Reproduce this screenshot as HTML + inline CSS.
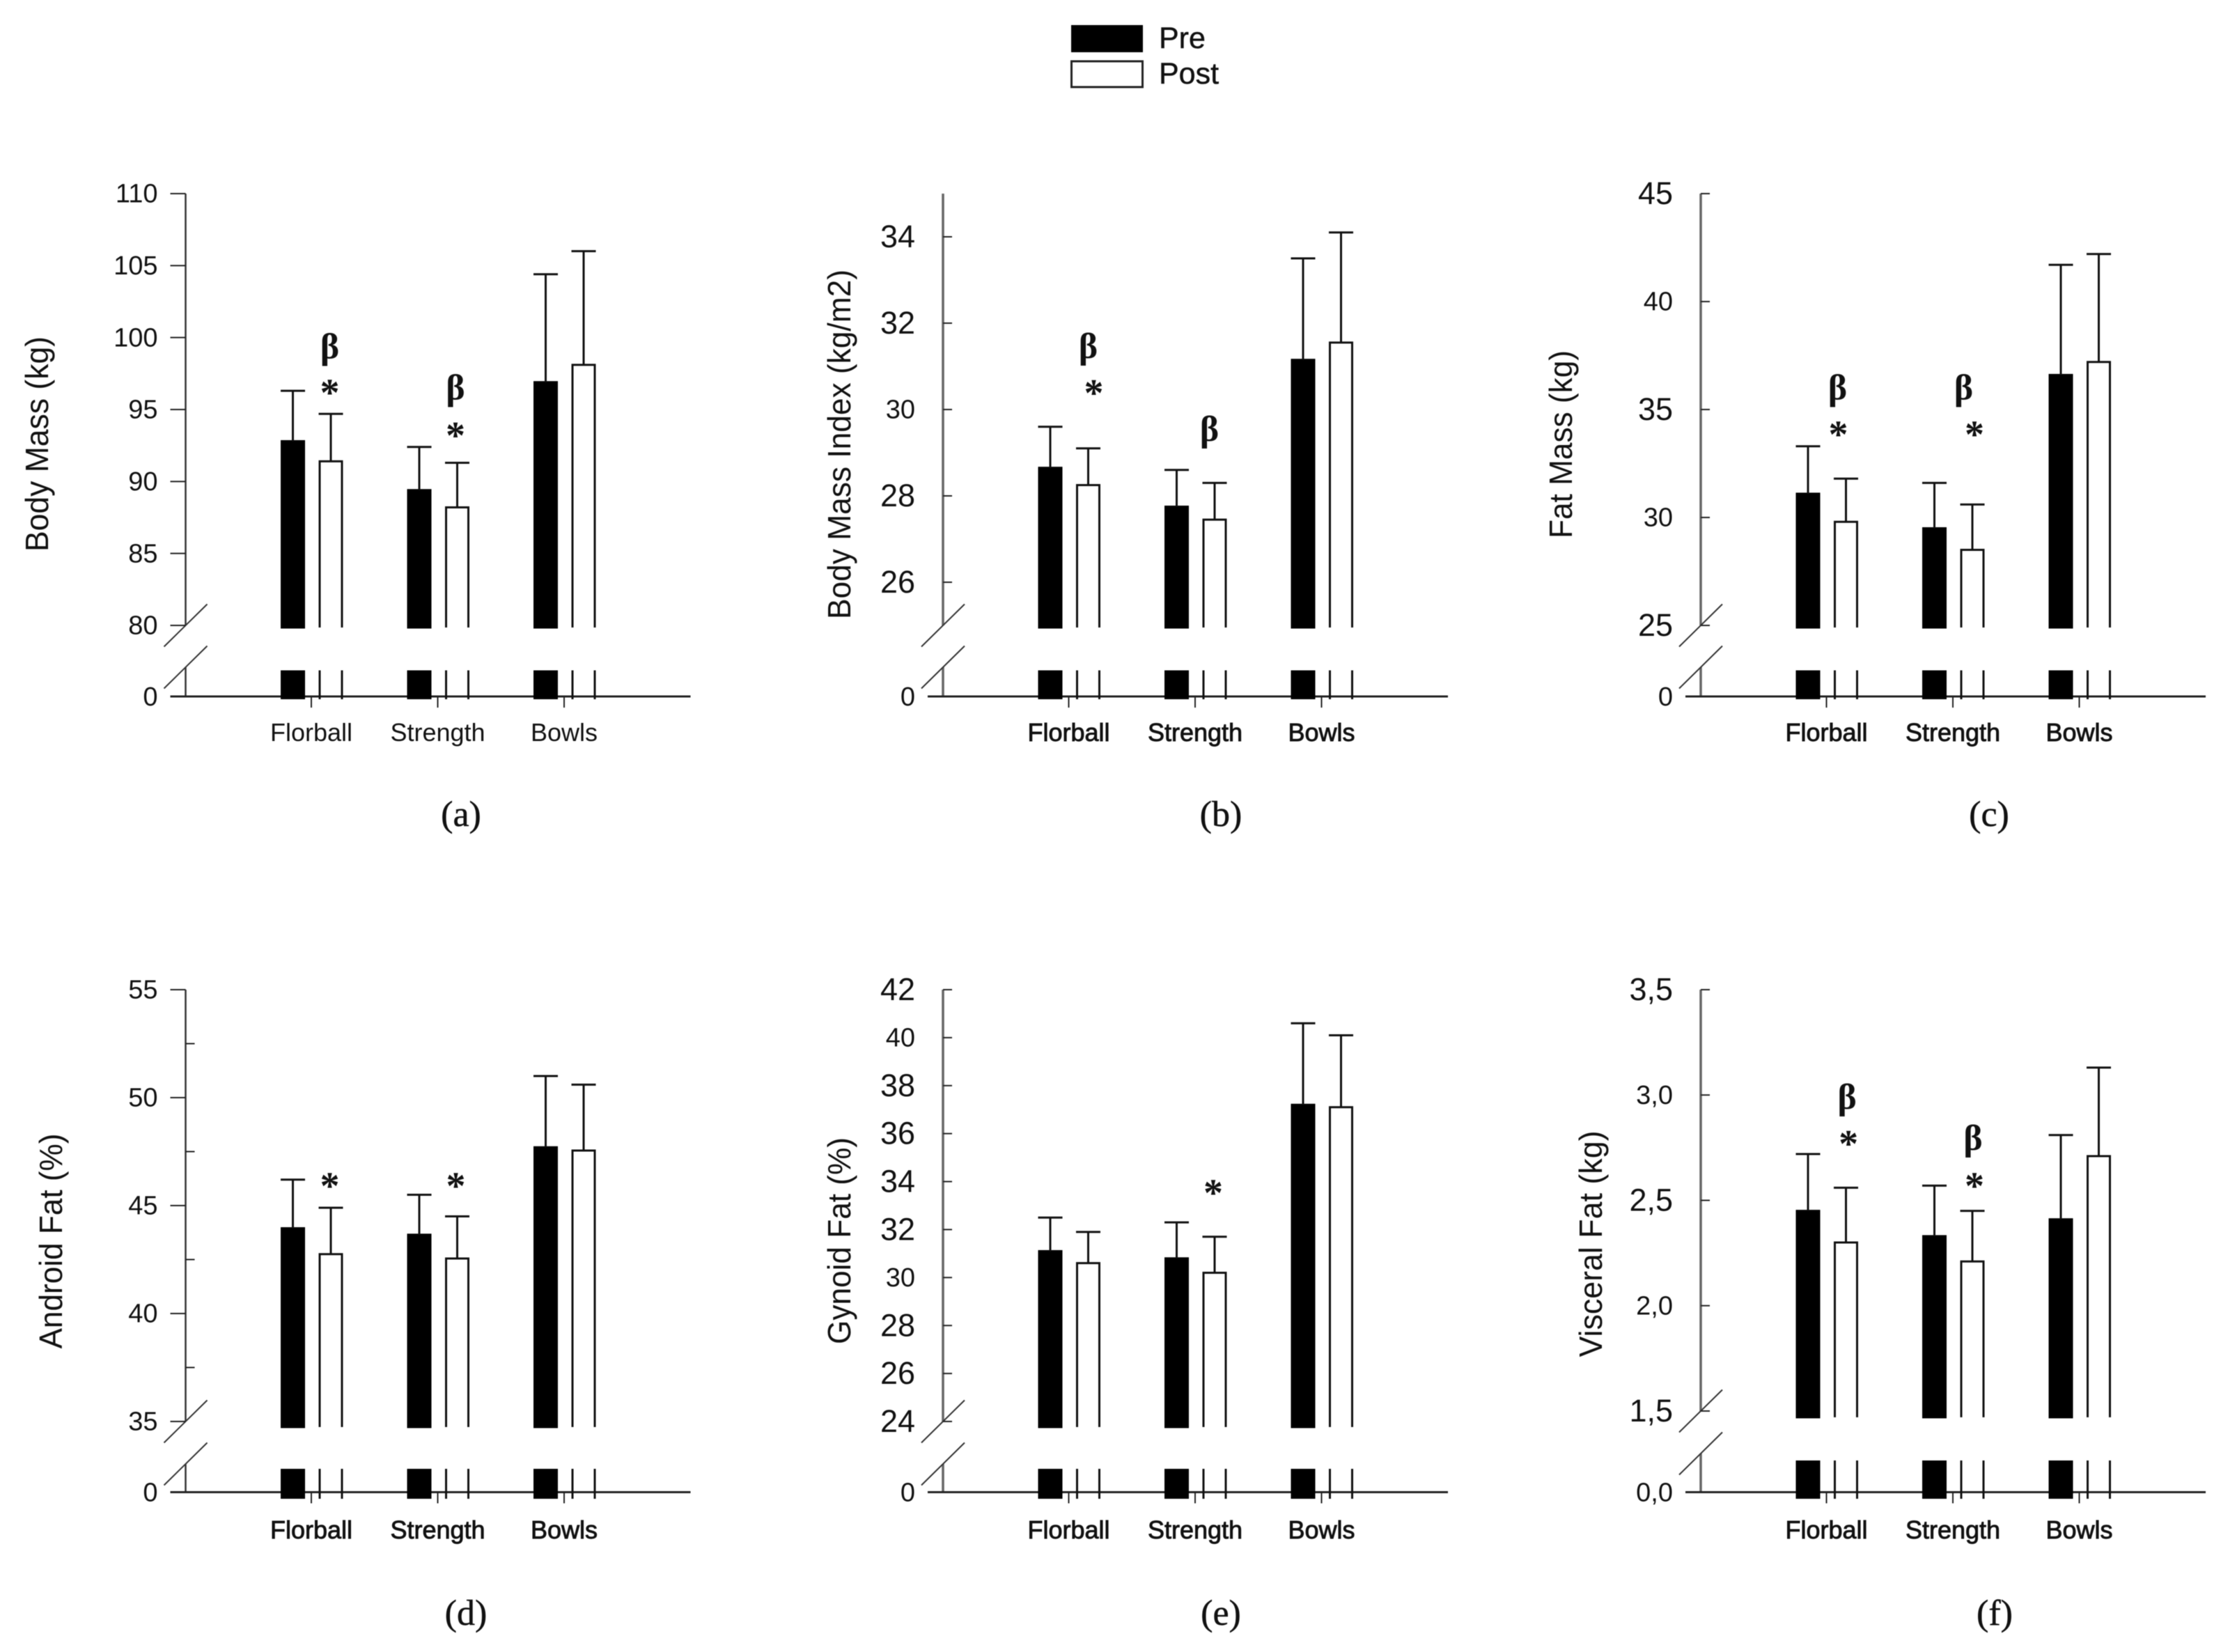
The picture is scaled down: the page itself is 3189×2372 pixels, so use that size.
<!DOCTYPE html>
<html lang="en">
<head>
<meta charset="utf-8">
<title>Body composition pre and post by training group</title>
<style>
  html, body { margin: 0; padding: 0; background: #fff; }
  svg { display: block; filter: blur(0.6px); }
  text { font-family: "Liberation Sans", sans-serif; fill: #111; }
  .caption { font-family: "Liberation Serif", serif; font-size: 52px; stroke: #111; stroke-width: 0.5px; }
  .sig { font-family: "Liberation Serif", serif; font-weight: bold; }
</style>
</head>
<body>
<svg id="figure" xmlns="http://www.w3.org/2000/svg" width="3189" height="2372" viewBox="0 0 3189 2372">
  <rect x="0" y="0" width="3189" height="2372" fill="#fff"/>
  <g>
    <rect x="1538" y="36" width="103" height="39" fill="#000"/>
    <text x="1664" y="69" font-size="43" stroke="#111" stroke-width="0.5">Pre</text>
    <rect x="1538.5" y="88" width="102" height="37" fill="#fff" stroke="#222" stroke-width="3"/>
    <text x="1664" y="120" font-size="43" stroke="#111" stroke-width="0.5">Post</text>
  </g>
</svg>
<script>
const categories = ['Florball', 'Strength', 'Bowls'];

const bodyMassPre = [92.8, 89.4, 96.9];
const bodyMassPost = [91.4, 88.2, 98.1];
const bodyMassPreUpper = [96.3, 92.4, 104.4];
const bodyMassPostUpper = [94.7, 91.3, 106.0];
const bodyMassTicks = [110, 105, 100, 95, 90, 85, 80];
const bodyMassTickLabels = ['110', '105', '100', '95', '90', '85', '80'];
const bodyMassBetaLevels = [99.14, 96.28, null];
const bodyMassStarLevels = [96.53, 93.55, null];

const bmiPre = [28.65, 27.75, 31.15];
const bmiPost = [28.25, 27.45, 31.55];
const bmiPreUpper = [29.6, 28.6, 33.5];
const bmiPostUpper = [29.1, 28.3, 34.1];
const bmiTicks = [34, 32, 30, 28, 26];
const bmiTickLabels = ['34', '32', '30', '28', '26'];
const bmiBetaLevels = [31.39, 29.47, null];
const bmiStarLevels = [30.5, null, null];

const fatMassPre = [31.1, 29.5, 36.6];
const fatMassPost = [29.8, 28.5, 37.2];
const fatMassPreUpper = [33.3, 31.6, 41.7];
const fatMassPostUpper = [31.8, 30.6, 42.2];
const fatMassTicks = [45, 40, 35, 30, 25];
const fatMassTickLabels = ['45', '40', '35', '30', '25'];
const fatMassBetaLevels = [35.85, 35.85, null];
const fatMassStarLevels = [34.08, 34.08, null];

const androidPre = [43.95, 43.65, 47.7];
const androidPost = [42.75, 42.55, 47.55];
const androidPreUpper = [46.2, 45.5, 51.0];
const androidPostUpper = [44.9, 44.5, 50.6];
const androidTicks = [55, 50, 45, 40, 35];
const androidMinorTicks = [52.5, 47.5, 42.5, 37.5];
const androidTickLabels = ['55', '50', '45', '40', '35'];
const androidBetaLevels = [null, null, null];
const androidStarLevels = [46.14, 46.14, null];

const gynoidPre = [31.1, 30.8, 37.2];
const gynoidPost = [30.6, 30.2, 37.1];
const gynoidPreUpper = [32.5, 32.3, 40.6];
const gynoidPostUpper = [31.9, 31.7, 40.1];
const gynoidTicks = [42, 40, 38, 36, 34, 32, 30, 28, 26, 24];
const gynoidTickLabels = ['42', '40', '38', '36', '34', '32', '30', '28', '26', '24'];
const gynoidBetaLevels = [null, null, null];
const gynoidStarLevels = [null, 33.74, null];

const visceralPre = [2.45, 2.33, 2.41];
const visceralPost = [2.30, 2.21, 2.71];
const visceralPreUpper = [2.72, 2.57, 2.81];
const visceralPostUpper = [2.56, 2.45, 3.13];
const visceralTicks = [3.5, 3.0, 2.5, 2.0, 1.5];
const visceralTickLabels = ['3,5', '3,0', '2,5', '2,0', '1,5'];
const visceralBetaLevels = [2.975, 2.78, null];
const visceralStarLevels = [2.793, 2.593, null];

const NS = 'http://www.w3.org/2000/svg';
const figure = document.getElementById('figure');

function svgEl(tag, attrs, parent) {
  const el = document.createElementNS(NS, tag);
  for (const k in attrs) el.setAttribute(k, attrs[k]);
  parent.appendChild(el);
  return el;
}

function drawPanel(p) {
  const group = svgEl('g', {}, figure);
  
  

  const yScale = v => p.topY + (p.domainMax - v) * (p.lowY - p.topY) / (p.domainMax - p.domainMin);
  const xCenter = (i, offset) => p.axisX + offset + i * 181.5;

  // y axis: upper and lower segments and break marks
  let el = svgEl('line', { x1: p.axisX, x2: p.axisX, y1: p.topY, y2: p.lowY, stroke: p.axisColor, 'stroke-width': p.axisWidth }, group);
  
  
  el = svgEl('line', { x1: p.axisX, x2: p.axisX, y1: p.breakY, y2: p.zeroY, stroke: p.axisColor, 'stroke-width': p.axisWidth }, group);
  
  
  [p.lowY, p.breakY].forEach(cy => {
    const slash = svgEl('line', { x1: p.axisX - 31, x2: p.axisX + 31, y1: cy + 30.5, y2: cy - 30.5, stroke: '#333', 'stroke-width': 2 }, group);
    
    
  });

  // x axis
  el = svgEl('line', { x1: p.axisX - 22, x2: p.axisX + 725, y1: p.zeroY, y2: p.zeroY, stroke: '#222', 'stroke-width': 3 }, group);
  
  

  // y ticks
  p.ticks.forEach((t, i) => {
    const y = yScale(t);
    const x2 = p.tickSide === 'left' ? p.axisX - 22 : p.axisX + 13;
    const tick = svgEl('line', { x1: p.axisX, x2: x2, y1: y, y2: y, stroke: '#222', 'stroke-width': 2 }, group);
    
    
    const size = p.tickSizes[i % p.tickSizes.length];
    const label = svgEl('text', { x: p.axisX - 40, y: y + size * 0.335, 'text-anchor': 'end', 'font-size': size }, group);
    label.textContent = p.tickLabels[i];
    
    
  });
  (p.minorTicks || []).forEach(t => {
    const y = yScale(t);
    const tick = svgEl('line', { x1: p.axisX, x2: p.axisX + 13, y1: y, y2: y, stroke: '#222', 'stroke-width': 2 }, group);
    
    
  });
  const zeroLabel = svgEl('text', { x: p.axisX - 40, y: p.zeroY + 13, 'text-anchor': 'end', 'font-size': 38 }, group);
  zeroLabel.textContent = p.zeroLabel;
  
  

  // y title
  const title = svgEl('text', {
    transform: 'translate(' + p.titleX + ',' + p.titleY + ') rotate(-90)',
    'text-anchor': 'middle', 'font-size': 46, textLength: p.titleLen, lengthAdjust: 'spacingAndGlyphs'
  }, group);
  title.textContent = p.title;
  
  

  // caption
  const caption = svgEl('text', { x: p.captionX, y: p.captionY, 'text-anchor': 'middle', class: 'caption' }, group);
  caption.textContent = p.caption;
  
  

  categories.forEach((cat, i) => {
    const tickX = xCenter(i, 180.5);
    const xt = svgEl('line', { x1: tickX, x2: tickX, y1: p.zeroY, y2: p.zeroY + 16, stroke: '#222', 'stroke-width': 2 }, group);
    
    
    const xl = svgEl('text', { x: tickX, y: p.xLabelY, 'text-anchor': 'middle', 'font-size': 36 }, group);
    if (p.heavyLabels) { xl.setAttribute('stroke', '#111'); xl.setAttribute('stroke-width', '0.9'); }
    xl.textContent = cat;
    
    

    // pre bar
    const preL = xCenter(i, 136.5), barW = 35;
    const preTop = yScale(p.pre[i]);
    const preBar = svgEl('rect', { x: preL + 1.5, y: preTop, width: barW - 3, height: p.barBottom - preTop, fill: '#000', stroke: '#000', 'stroke-width': 3 }, group);
    
    
    const preStub = svgEl('rect', { x: preL, y: p.stubTop, width: barW, height: p.stubBottom - p.stubTop, fill: '#000' }, group);
    
    
    const preCx = preL + barW / 2, preErr = yScale(p.preUpper[i]);
    const preE = svgEl('path', { d: 'M' + preCx + ' ' + preTop + 'V' + preErr + 'M' + (preCx - 17.5) + ' ' + preErr + 'H' + (preCx + 17.5), fill: 'none', stroke: '#111', 'stroke-width': 3 }, group);
    
    

    // post bar
    const postL = xCenter(i, 192.5), postR = postL + 32;
    const postTop = yScale(p.post[i]);
    const postBar = svgEl('path', { d: 'M' + postL + ' ' + p.barBottom + 'V' + postTop + 'H' + postR + 'V' + p.barBottom, fill: '#fff', stroke: '#111', 'stroke-width': 3 }, group);
    
    
    const postStub = svgEl('path', { d: 'M' + postL + ' ' + p.stubTop + 'V' + p.stubBottom + 'M' + postR + ' ' + p.stubTop + 'V' + p.stubBottom, fill: 'none', stroke: '#111', 'stroke-width': 3 }, group);
    
    
    const postCx = postL + 16, postErr = yScale(p.postUpper[i]);
    const postE = svgEl('path', { d: 'M' + postCx + ' ' + postTop + 'V' + postErr + 'M' + (postCx - 17.5) + ' ' + postErr + 'H' + (postCx + 17.5), fill: 'none', stroke: '#111', 'stroke-width': 3 }, group);
    
    

    // significance markers
    if (p.betas[i] !== null) {
      const b = svgEl('text', { x: postCx + p.betaDx[i], y: yScale(p.betas[i]) + 12, 'text-anchor': 'middle', 'font-size': 52, class: 'sig' }, group);
      b.textContent = 'β';
      
      
    }
    if (p.stars[i] !== null) {
      const s = svgEl('text', { x: postCx + p.starDx[i], y: yScale(p.stars[i]) + 26, 'text-anchor': 'middle', 'font-size': 56, class: 'sig' }, group);
      s.textContent = '*';
      
      
    }
  });
}

const topRow = { topY: 278, lowY: 898, breakY: 958, zeroY: 1000, barBottom: 901, stubTop: 962.5, stubBottom: 1004, xLabelY: 1064, captionY: 1186 };
const bottomRow = { topY: 1421, lowY: 2041, breakY: 2102, zeroY: 2142.5, barBottom: 2049, stubTop: 2109, stubBottom: 2152, xLabelY: 2209, captionY: 2333 };
const darkAxis = { axisColor: '#333', axisWidth: 2.5 };
const greyAxis = { axisColor: '#666', axisWidth: 3.5 };

drawPanel(Object.assign({}, topRow, darkAxis, {
  slug: 'body-mass', axisX: 266.5, domainMax: 110, domainMin: 80,
  pre: bodyMassPre, post: bodyMassPost, preUpper: bodyMassPreUpper, postUpper: bodyMassPostUpper,
  ticks: bodyMassTicks, tickLabels: bodyMassTickLabels, tickSide: 'left', tickSizes: [38], zeroLabel: '0',
  title: 'Body Mass (kg)', titleX: 69, titleY: 637.5, titleLen: 309,
  caption: '(a)', captionX: 662, heavyLabels: false,
  betas: bodyMassBetaLevels, stars: bodyMassStarLevels, betaDx: [-1.5, -2.5, 0], starDx: [-1.5, -2.5, 0]
}));
drawPanel(Object.assign({}, topRow, greyAxis, {
  slug: 'body-mass-index', axisX: 1354, domainMax: 35, domainMin: 25,
  pre: bmiPre, post: bmiPost, preUpper: bmiPreUpper, postUpper: bmiPostUpper,
  ticks: bmiTicks, tickLabels: bmiTickLabels, tickSide: 'right', tickSizes: [45, 45, 38, 45, 45], zeroLabel: '0',
  title: 'Body Mass Index (kg/m2)', titleX: 1221, titleY: 638, titleLen: 502,
  caption: '(b)', captionX: 1753, heavyLabels: true,
  betas: bmiBetaLevels, stars: bmiStarLevels, betaDx: [0, -7.5, 0], starDx: [8, 0, 0]
}));
drawPanel(Object.assign({}, topRow, greyAxis, {
  slug: 'fat-mass', axisX: 2442, domainMax: 45, domainMin: 25,
  pre: fatMassPre, post: fatMassPost, preUpper: fatMassPreUpper, postUpper: fatMassPostUpper,
  ticks: fatMassTicks, tickLabels: fatMassTickLabels, tickSide: 'right', tickSizes: [45, 38], zeroLabel: '0',
  title: 'Fat Mass (kg)', titleX: 2257, titleY: 638, titleLen: 270,
  caption: '(c)', captionX: 2856, heavyLabels: true,
  betas: fatMassBetaLevels, stars: fatMassStarLevels, betaDx: [-12, -12.5, 0], starDx: [-11, 3, 0]
}));
drawPanel(Object.assign({}, bottomRow, darkAxis, {
  slug: 'android-fat', axisX: 266.5, domainMax: 55, domainMin: 35,
  pre: androidPre, post: androidPost, preUpper: androidPreUpper, postUpper: androidPostUpper,
  ticks: androidTicks, minorTicks: androidMinorTicks, tickLabels: androidTickLabels, tickSide: 'left', tickSizes: [38], zeroLabel: '0',
  title: 'Android Fat (%)', titleX: 89, titleY: 1782, titleLen: 309,
  caption: '(d)', captionX: 669, heavyLabels: true,
  betas: androidBetaLevels, stars: androidStarLevels, betaDx: [0, 0, 0], starDx: [-1.5, -2, 0]
}));
drawPanel(Object.assign({}, bottomRow, greyAxis, {
  slug: 'gynoid-fat', axisX: 1354, domainMax: 42, domainMin: 24,
  pre: gynoidPre, post: gynoidPost, preUpper: gynoidPreUpper, postUpper: gynoidPostUpper,
  ticks: gynoidTicks, tickLabels: gynoidTickLabels, tickSide: 'right', tickSizes: [45, 38, 45, 45, 45, 45, 38, 45, 45, 45], zeroLabel: '0',
  title: 'Gynoid Fat (%)', titleX: 1221, titleY: 1781.5, titleLen: 297,
  caption: '(e)', captionX: 1753, heavyLabels: true,
  betas: gynoidBetaLevels, stars: gynoidStarLevels, betaDx: [0, 0, 0], starDx: [0, -2, 0]
}));
drawPanel(Object.assign({}, bottomRow, greyAxis, {
  slug: 'visceral-fat', axisX: 2442, domainMax: 3.5, domainMin: 1.5, barBottom: 2035, stubTop: 2097, breakY: 2087, lowY: 2026,
  pre: visceralPre, post: visceralPost, preUpper: visceralPreUpper, postUpper: visceralPostUpper,
  ticks: visceralTicks, tickLabels: visceralTickLabels, tickSide: 'right', tickSizes: [45, 38], zeroLabel: '0,0',
  title: 'Visceral Fat (kg)', titleX: 2300, titleY: 1786, titleLen: 325,
  caption: '(f)', captionX: 2864, heavyLabels: true,
  betas: visceralBetaLevels, stars: visceralStarLevels, betaDx: [1.6, 1, 0], starDx: [3.6, 3, 0]
}));
</script>
</body>
</html>
